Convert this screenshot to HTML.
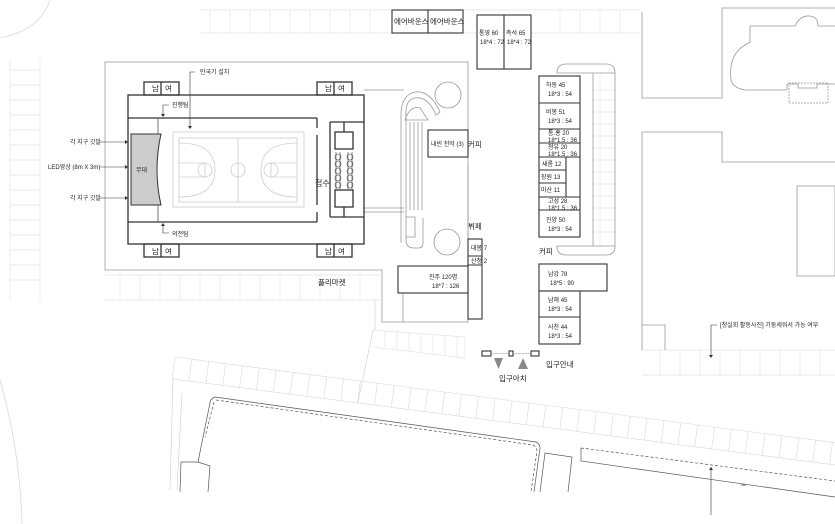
<!DOCTYPE html>
<html><head><meta charset="utf-8"><style>
html,body{margin:0;padding:0;background:#fff}
svg{display:block}
text{font-family:"Liberation Sans","Noto Sans CJK KR",sans-serif;fill:#222}
.s{font-size:6px}
.m{font-size:7.5px}
.l{font-size:8px}
</style></head><body>
<svg width="835" height="524" viewBox="0 0 835 524" xmlns="http://www.w3.org/2000/svg">
<g fill="none" stroke="#e4e4e4" stroke-width="0.7">
  <path d="M10 60 V300 M40 60 V300"/>
  <path d="M10 70H40M10 85H40M10 100H40M10 115H40M10 130H40M10 145H40M10 160H40M10 175H40M10 190H40M10 205H40M10 220H40M10 235H40M10 250H40M10 265H40M10 280H40"/>
  <path d="M200 10H640 M200 33H640"/>
  <path d="M210 10V33M230 10V33M250 10V33M270 10V33M290 10V33M310 10V33M330 10V33M350 10V33M370 10V33M560 10V33M580 10V33M600 10V33M620 10V33"/>
  <path d="M105 275H380 M105 300H380"/>
  <path d="M120 275V300M140 275V300M160 275V300M180 275V300M200 275V300M220 275V300M240 275V300M260 275V300M280 275V300M300 275V300M320 275V300M340 275V300M360 275V300"/>
  <path d="M600 75V245"/>
  <path d="M593 90H615M593 100H615M593 112H615M593 124H615M593 136H615M593 148H615M593 160H615M593 172H615M593 184H615M593 196H615M593 208H615M593 220H615M593 232H615"/>
  <path d="M642 350H835 M642 375H835"/>
  <path d="M660 350V375M680 350V375M700 350V375M720 350V375M740 350V375M760 350V375M780 350V375M800 350V375M820 350V375"/>
  <!-- upper small parking -->
  <path d="M373 330L465 337 M373 347L465 358"/>
  <path d="M385 331V348M397 332V349M409 333V351M421 334V352M433 335V354M445 336V355M457 336V357M465 337V358"/>
</g>
<!-- diagonal parking strip -->
<g transform="translate(175,357) rotate(7.4)" fill="none" stroke="#d8d8d8" stroke-width="0.6">
  <path d="M0 0H670 M0 22H670"/>
  <path d="M0 0V22M17 0V22M34 0V22M51 0V22M68 0V22M85 0V22M102 0V22M119 0V22M136 0V22M153 0V22M170 0V22M187 0V22M204 0V22M221 0V22M238 0V22M255 0V22M272 0V22M289 0V22M306 0V22M323 0V22M340 0V22M357 0V22M374 0V22M391 0V22M408 0V22M425 0V22M442 0V22M459 0V22M476 0V22M493 0V22M510 0V22M527 0V22M544 0V22M561 0V22M578 0V22M595 0V22M612 0V22M629 0V22M646 0V22M663 0V22"/>
</g>
<g fill="none" stroke="#cfcfcf" stroke-width="0.6">
  <path d="M0 38Q40 30 50 0"/>
  <path d="M0 380 Q20 450 22 524"/>
  <path d="M375 300V330 M373 330 L358 402"/>
  <path d="M173 379 L170 490 M182 393 L177 490"/>
</g>
<!-- bottom site boundary -->
<g fill="none" stroke="#555" stroke-width="0.7">
  <path d="M215 397 L536 442 Q540 444 540 448 L534 492"/>
  <path d="M216 400 L533 445 Q537 447 537 451 L531 492" stroke-dasharray="3,2"/>
  <path d="M215 397 Q210 399 210 403 L198 462 M181 462 H198 L210 466 L208 492 M181 462 L180 492"/>
  <path d="M214 402 L205 437" stroke-dasharray="3,2"/>
  <path d="M540 492 L545 453 L572 457 L568 492"/>
  <path d="M581 448 L835 481" stroke-dasharray="3,2"/>
  <path d="M581 448 V461 L835 497"/>
  <path d="M711 467V515"/>
</g>
<path d="M709 470l2-3l2 3z" fill="#333"/>
<text x="741" y="486" style="font-size:3px">180</text>
<!-- site outline -->
<g fill="none" stroke="#999" stroke-width="0.8">
  <path d="M105 62H468V322H382V270H105Z"/>
  <path d="M642 12V98H722V8H835"/>
  <path d="M642 350V132H722V162H835"/>
  <path d="M797 186H835V276H797Z"/>
  <path d="M665 350V325H642"/>
  <path d="M731 80 Q728 55 745 45 L750 42 V26 H795 Q800 15 810 16 Q818 17 818 26 H835"/>
  <path d="M731 80 Q733 88 745 90 H787 V84 H798 V88 H817 V84 H835"/>
  <path d="M789 83H828V103H789Z" stroke-dasharray="2,1"/>
  <path d="M364 90H404 M364 208H404 M364 212H404"/>
  <path d="M401 243 V115 Q401 95 415 92 Q430 90 440 112 L436 115 Q428 96 415 98 Q405 100 406 115 V240 Q406 248 414 248 H419 Q423 248 423 242 V218"/>
  <path d="M405 120 Q410 105 420 108 L428 120Z"/>
  <path d="M410 122V210 M414 122V210 M418 122V210 M422 122V210"/>
  <path d="M406 217H415V237H406"/>
  <circle cx="448" cy="95" r="13"/>
  <circle cx="447" cy="242" r="13"/>
  <path d="M557 73 Q557 64 566 64 H606 Q615 64 615 73 H557 M593 73V246 M615 73V246 M557 246 Q557 255 566 255 H606 Q615 255 615 246 Z"/>
  <path d="M468 165V320"/>
  <path d="M403 266V322"/>
</g>
<!-- gym -->
<g fill="none" stroke="#333" stroke-width="1.3">
  <rect x="128" y="95" width="236" height="149"/>
  <path d="M128 118H317 M128 222H317 M317 118V128 M317 212V222 M317 135V205"/>
  <path d="M330 122H364 M330 217H364 M330 122V217"/>
  <rect x="144" y="82" width="35" height="13"/>
  <rect x="317" y="82" width="35" height="13"/>
  <rect x="144" y="244" width="35" height="13"/>
  <rect x="317" y="244" width="35" height="13"/>
  <path d="M161 82V95 M334 82V95 M161 244V257 M334 244V257"/>
  <rect x="335" y="132" width="18" height="17"/>
  <rect x="335" y="190" width="18" height="17"/>
  <path d="M344 122V132 M344 207V217"/>
</g>
<path d="M131 134H161Q153 170 161 205H131Z" fill="#ccc" stroke="#333" stroke-width="1"/>
<path d="M158 118V134 M158 205V222" stroke="#555" stroke-width="0.8"/>
<g fill="none" stroke="#bbb" stroke-width="0.6">
  <rect x="173" y="132" width="131" height="75"/>
  <rect x="179" y="138" width="118" height="64"/>
  <path d="M238 138V202"/>
  <circle cx="238" cy="170" r="7"/>
  <path d="M179 143Q215 143 215 170Q215 197 179 197 M297 143Q261 143 261 170Q261 197 297 197"/>
  <path d="M179 163H205V177H179 M297 163H271V177H297"/>
  <circle cx="205" cy="170" r="7"/><circle cx="271" cy="170" r="7"/>
</g>
<g fill="none" stroke="#444" stroke-width="0.6">
  <circle cx="338" cy="157" r="3"/><circle cx="338" cy="164" r="3"/><circle cx="338" cy="171" r="3"/><circle cx="338" cy="178" r="3"/><circle cx="338" cy="185" r="3"/>
  <circle cx="350" cy="157" r="3"/><circle cx="350" cy="164" r="3"/><circle cx="350" cy="171" r="3"/><circle cx="350" cy="178" r="3"/><circle cx="350" cy="185" r="3"/>
  <path d="M336 152V190M340 152V190M348 152V190M352 152V190"/>
</g>
<g fill="none" stroke="#333" stroke-width="0.6">
  <path d="M195 72H190V128"/><path d="M169 105H163V116"/><path d="M169 233H163V224"/>
  <path d="M100 142H128 M100 167H128 M100 198H128"/>
  <path d="M717 325H711V357"/>
</g>
<g fill="#333">
  <path d="M188 126l2 3l2-3z"/><path d="M161 114l2 3l2-3z"/><path d="M161 226l2-3l2 3z"/>
  <path d="M125 140l3 2l-3 2z M125 165l3 2l-3 2z M125 196l3 2l-3 2z"/>
  <path d="M709 355l2 3l2-3z"/>
</g>
<g fill="#fff" stroke="#333" stroke-width="1.1">
  <rect x="392" y="10" width="71" height="23"/><path d="M428 10V33"/>
  <rect x="477" y="15" width="54" height="54"/><path d="M504 15V69"/>
  <rect x="428" y="130" width="40" height="27"/>
  <rect x="539" y="76" width="41" height="161"/>
  <path d="M539 103H580M539 129H580M539 143H580M539 157H580M539 197H580M539 210H580M566 157V197M539 170H566M539 183H566"/>
  <rect x="539" y="264" width="68" height="27"/>
  <rect x="539" y="291" width="41" height="53"/><path d="M539 317H580"/>
  <rect x="468" y="239" width="14" height="80"/><path d="M468 256H482M468 265H482"/>
  <rect x="398" y="266" width="70" height="27"/>
  <rect x="482" y="351" width="9" height="5"/><rect x="509" y="351" width="4" height="5"/><rect x="531" y="351" width="8" height="5"/>
</g>
<path d="M491 353.5H509M513 353.5H531" stroke="#999" stroke-width="0.6"/>
<path d="M494 358H503L498.5 369Z M518 369H528L523 358Z" fill="#888"/>
<g>
<text class="m" x="152" y="91">남</text><text class="m" x="165" y="91">여</text>
<text class="m" x="325" y="91">남</text><text class="m" x="338" y="91">여</text>
<text class="m" x="152" y="254">남</text><text class="m" x="165" y="254">여</text>
<text class="m" x="325" y="254">남</text><text class="m" x="338" y="254">여</text>
<text class="s" x="200" y="74">만국기 설치</text>
<text class="s" x="172" y="107">진행팀</text>
<text class="s" x="172" y="236">의전팀</text>
<text class="s" x="136" y="172">무대</text>
<text class="l" x="315" y="186">접수</text>
<text class="s" x="70" y="144">각 지구 깃발</text>
<text class="s" x="48" y="169">LED영상 (8m X 3m)</text>
<text class="s" x="70" y="200">각 지구 깃발</text>
<text class="m" x="318" y="285">플리마켓</text>
<text class="m" x="394" y="24">에어바운스</text><text class="m" x="430" y="24">에어바운스</text>
<text class="s" x="479" y="35">통영 60</text><text class="s" x="480" y="44">18*4 : 72</text>
<text class="s" x="506" y="35">측석 65</text><text class="s" x="507" y="44">18*4 : 72</text>
<text class="s" x="431" y="146">내빈 천막 (3)</text>
<text class="m" x="468" y="147">커피</text>
<text class="m" x="468" y="229">뷔페</text>
<text class="s" x="471" y="250">대봉 7</text>
<text class="s" x="471" y="263">산청 2</text>
<text class="s" x="429" y="279">진주 120명</text><text class="s" x="432" y="288">18*7 : 126</text>
<text class="s" x="546" y="87">하동 45</text><text class="s" x="548" y="96">18*3 : 54</text>
<text class="s" x="546" y="114">비봉 51</text><text class="s" x="548" y="123">18*3 : 54</text>
<text class="s" x="548" y="135">통.홍 20</text><text class="s" x="548" y="142">18*1.5 : 36</text>
<text class="s" x="548" y="149">청유 20</text><text class="s" x="548" y="156">18*1.5 : 36</text>
<text class="s" x="542" y="166">새롬 12</text>
<text class="s" x="541" y="179">장원 13</text>
<text class="s" x="541" y="192">마산 11</text>
<text class="s" x="548" y="203">고성 28</text><text class="s" x="548" y="210">18*1.5 : 36</text>
<text class="s" x="546" y="222">진양 50</text><text class="s" x="548" y="231">18*3 : 54</text>
<text class="m" x="539" y="254">커피</text>
<text class="s" x="548" y="276">남강 78</text><text class="s" x="550" y="285">18*5 : 90</text>
<text class="s" x="548" y="302">남해 45</text><text class="s" x="548" y="311">18*3 : 54</text>
<text class="s" x="548" y="329">사천 44</text><text class="s" x="548" y="338">18*3 : 54</text>
<text class="m" x="546" y="367">입구안내</text>
<text class="m" x="499" y="381">입구아치</text>
<text class="s" x="720" y="327">[청실회 활동사진] 기둥세워서 가능 여부</text>
</g>
</svg>
</body></html>
